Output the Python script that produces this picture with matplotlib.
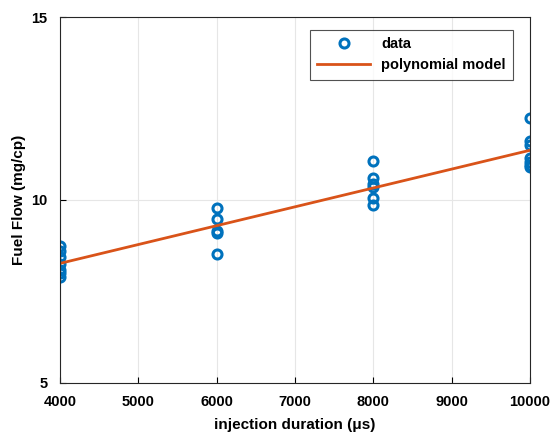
import numpy as np
import matplotlib.pyplot as plt

plt.rcParams['font.family'] = ['Liberation Sans', 'DejaVu Sans']

# injection duration (us) and fuel flow (mg/cp)
dur_4000 = [8.75, 8.6, 8.45, 8.25, 8.1, 8.0, 7.9]
dur_6000 = [9.78, 9.48, 9.15, 9.1, 8.52]
dur_8000 = [11.07, 10.6, 10.45, 10.35, 10.05, 9.85]
dur_10000 = [12.25, 11.6, 11.5, 11.15, 11.05, 10.95, 10.9]

x = np.array([4000] * len(dur_4000) + [6000] * len(dur_6000)
             + [8000] * len(dur_8000) + [10000] * len(dur_10000))
y = np.array(dur_4000 + dur_6000 + dur_8000 + dur_10000)

coef = np.polyfit(x, y, 1)
xf = np.array([4000, 10000])
yf = np.polyval(coef, xf)

fig = plt.figure(figsize=(5.52, 4.36), dpi=100)
ax = fig.add_axes([0.1087, 0.1216, 0.8514, 0.8394])

ax.plot(x, y, 'o', mfc='none', mec='#0072BD', mew=2.2, ms=6.5, label='data')
ax.plot(xf, yf, '-', color='#D95319', lw=2, label='polynomial model')

ax.set_xlim(4000, 10000)
ax.set_ylim(5, 15)
ax.set_xticks(range(4000, 10001, 1000))
ax.set_yticks([5, 10, 15])
ax.grid(True, color='#e6e6e6', lw=0.8)
ax.set_axisbelow(True)
ax.tick_params(direction='in', length=4, labelsize=10.5, top=False, right=False)
ax.tick_params(axis='x', pad=9)
ax.tick_params(axis='y', pad=9)
for lbl in ax.get_xticklabels() + ax.get_yticklabels():
    lbl.set_fontweight('bold')
for s in ax.spines.values():
    s.set_color('#262626')
    s.set_linewidth(0.8)

ax.set_xlabel('injection duration (μs)', fontsize=11, fontweight='bold', labelpad=6)
ax.set_ylabel('Fuel Flow (mg/cp)', fontsize=11, fontweight='bold', labelpad=4)

leg = ax.legend(loc='upper right', bbox_to_anchor=(0.98, 0.985), fancybox=False,
                edgecolor='#262626', prop={'weight': 'bold', 'size': 10.5},
                handlelength=3.6, borderpad=0.5)
leg.get_frame().set_linewidth(0.8)

fig.savefig('out.png', dpi=100)
